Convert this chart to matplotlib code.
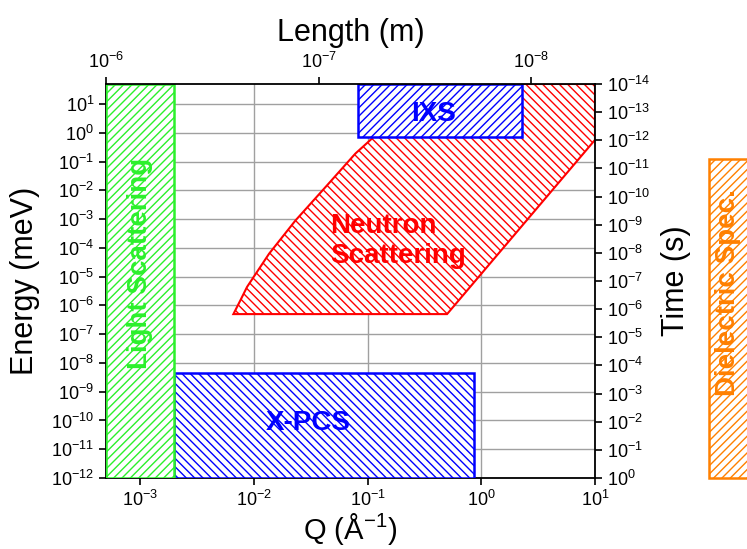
"""
Q-E map of experimental techniques (light scattering, X-PCS, IXS,
neutron scattering, dielectric spectroscopy) with length/time twin axes.
"""
import numpy as np
import matplotlib
matplotlib.use('Agg')
import matplotlib.pyplot as plt
from matplotlib.patches import Polygon
from matplotlib.ticker import LogLocator, NullLocator

plt.rcParams['font.family'] = ['Liberation Sans', 'DejaVu Sans']
plt.rcParams['mathtext.default'] = 'regular'
plt.rcParams['hatch.linewidth'] = 1.0

# ============================================================
# Data: region boundaries in (Q [1/A], Energy [meV])
# ============================================================
light_q = [5e-4, 2e-3]
light_e = [1e-12, 50]
xpcs_q = [2e-3, 0.86]
xpcs_e = [1e-12, 4.5e-9]
ixs_q = [0.082, 2.3]
ixs_e = [0.69, 50]
diel_q = [100, 1000]
diel_e = [1e-12, 0.12]
neutron_q = [6.6e-3, 7.6e-3, 8.7e-3, 0.0136, 0.0232, 0.0426, 0.078, 0.11, 0.12, 10, 10, 0.5]
neutron_e = [5e-7, 1.5e-6, 4.4e-6, 6.3e-5, 9e-4, 0.013, 0.19, 0.65, 50, 50, 0.57, 5e-7]

Q_LIM = (5e-4, 10)
E_LIM = (1e-12, 50)
LEN_LIM = (1e-6, 5e-9)
TIME_LIM = (1, 1e-14)

GREEN, BLUE, RED, ORANGE = '#2cf02c', '#0000ff', '#ff0000', '#ff8000'


def box(q, e):
    return [(q[0], e[0]), (q[1], e[0]), (q[1], e[1]), (q[0], e[1])]


fig = plt.figure(figsize=(7.47, 5.49), dpi=100)
ax = fig.add_axes([0.1419, 0.1293, 0.6546, 0.7177])
ax.set_xscale('log'); ax.set_yscale('log')
ax.set_xlim(*Q_LIM); ax.set_ylim(*E_LIM)

# --- regions ---
ax.add_patch(Polygon(list(zip(neutron_q, neutron_e)), closed=True, facecolor='white',
                     edgecolor=RED, hatch='\\\\\\\\', lw=1.5, zorder=2.8))
ax.add_patch(Polygon(box(ixs_q, ixs_e), facecolor='white', edgecolor=BLUE,
                     hatch='////', lw=1.8, zorder=3))
ax.add_patch(Polygon(box(xpcs_q, xpcs_e), facecolor='white', edgecolor=BLUE,
                     hatch='\\\\\\\\', lw=1.8, zorder=3))
ax.add_patch(Polygon(box(light_q, light_e), facecolor='white', edgecolor=GREEN,
                     hatch='////', lw=1.8, zorder=3))
ax.add_patch(Polygon(box(diel_q, diel_e), facecolor='white', edgecolor=ORANGE,
                     hatch='////', lw=1.8, zorder=3, clip_on=False))

tkw = dict(fontsize=20, fontweight='bold', zorder=5)
ax.text(1e-3, 3e-5, 'Light Scattering', color=GREEN, rotation=90,
        ha='center', va='center', **tkw)
ax.text(0.047, 1.8e-4, 'Neutron\nScattering', color=RED, ha='left', va='center',
        multialignment='left', **tkw)
ax.text(0.38, 4.6, 'IXS', color=BLUE, ha='center', va='center', **tkw)
ax.text(0.03, 8e-11, 'X-PCS', color=BLUE, ha='center', va='center', **tkw)
ax.text(147, 2.9e-6, 'Dielectric Spec.', color=ORANGE, rotation=90,
        ha='center', va='center', **tkw)

ax.grid(True, which='major', color='#a0a0a0', lw=1.0)
ax.set_axisbelow(True)

# --- twin axes ---
ax_top = ax.twiny()
ax_top.set_xscale('log'); ax_top.set_xlim(*LEN_LIM)
ax_right = ax.twinx()
ax_right.set_yscale('log'); ax_right.set_ylim(*TIME_LIM)

for a in (ax, ax_top, ax_right):
    for axis in (a.xaxis, a.yaxis):
        axis.set_major_locator(LogLocator(base=10, numticks=30))
        axis.set_minor_locator(NullLocator())
    a.tick_params(which='major', direction='out', length=5, width=1.2, labelsize=13)
    for s in a.spines.values():
        s.set_linewidth(1.3)
        s.set_visible(False)

ax.spines['left'].set_visible(True); ax.spines['bottom'].set_visible(True)
ax_top.spines['top'].set_visible(True)
ax_right.spines['right'].set_visible(True)

ax.set_xlabel('Q (Å$^{-1}$)', fontsize=21, labelpad=1)
ax.set_ylabel('Energy (meV)', fontsize=22, labelpad=8)
ax_top.set_xlabel('Length (m)', fontsize=22, labelpad=8)
ax_right.set_ylabel('Time (s)', fontsize=22, labelpad=8)

fig.savefig('out.png', dpi=100)
